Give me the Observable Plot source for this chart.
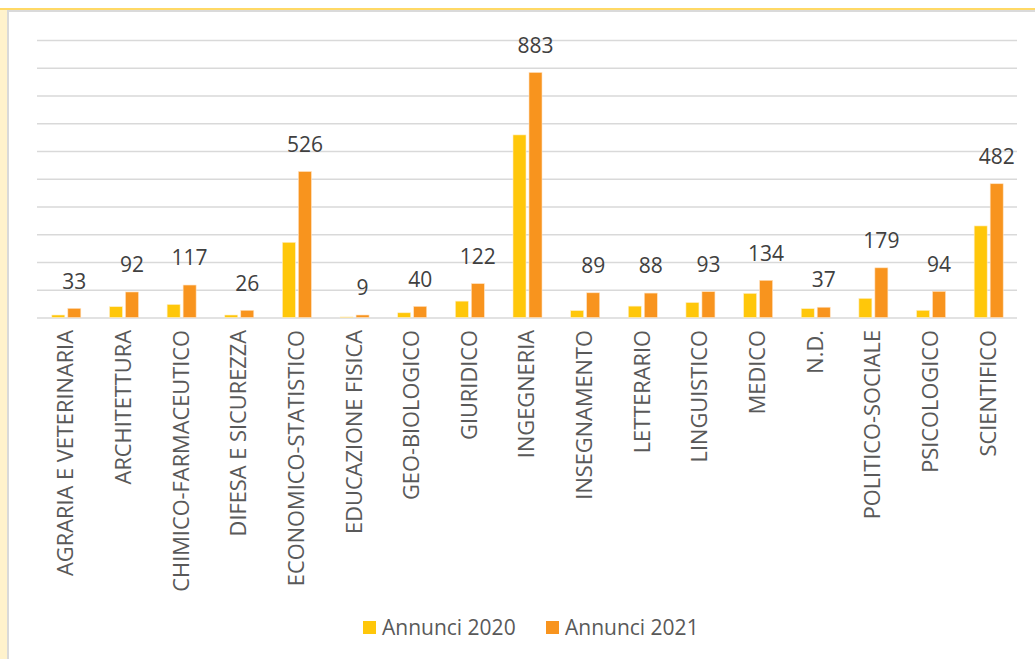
<!DOCTYPE html>
<html>
<head>
<meta charset="utf-8">
<script src="https://cdn.jsdelivr.net/npm/d3@7"></script>
<script src="https://cdn.jsdelivr.net/npm/@observablehq/plot@0.6"></script>
<style>
  html, body { margin: 0; padding: 0; background: #fff; }
  body { width: 1035px; height: 659px; position: relative; overflow: hidden; font-family: "Open Sans", sans-serif; }
  #strip { position: absolute; left: 0; top: 8px; width: 7px; bottom: 0; background: #FFF2CC; }
  #vline { position: absolute; left: 7px; top: 10px; width: 2px; bottom: 0; background: #D9D9D9; }
  #topY { position: absolute; left: 0; right: 0; top: 8px; height: 2px; background: #FFD966; }
  #topG { position: absolute; left: 7px; right: 0; top: 10px; height: 1.5px; background: #DADADA; }
  #chart { position: absolute; left: 0; top: 0; }
  #legend { position: absolute; top: 0; left: 0; width: 1035px; height: 659px; font-size: 21px; color: #595959; }
  .sw { position: absolute; width: 13px; height: 13px; top: 621px; }
  .lt { position: absolute; top: 613px; line-height: 28px; white-space: nowrap; }
</style>
</head>
<body>
<div id="strip"></div>
<div id="topY"></div>
<div id="topG"></div>
<div id="vline"></div>
<div id="chart"></div>
<div id="legend"></div>
<script>
const categories = ["AGRARIA E VETERINARIA","ARCHITETTURA","CHIMICO-FARMACEUTICO","DIFESA E SICUREZZA","ECONOMICO-STATISTICO","EDUCAZIONE FISICA","GEO-BIOLOGICO","GIURIDICO","INGEGNERIA","INSEGNAMENTO","LETTERARIO","LINGUISTICO","MEDICO","N.D.","POLITICO-SOCIALE","PSICOLOGICO","SCIENTIFICO"];
const series = ["Annunci 2020", "Annunci 2021"];
const values2020 = [9, 39, 47, 9, 271, 2, 17, 59, 658, 25, 41, 54, 87, 32, 69, 26, 330];
const values2021 = [33, 92, 117, 26, 526, 9, 40, 122, 883, 89, 88, 93, 134, 37, 179, 94, 482];
const colors = ["#FFC70A", "#F8941E"];
const gridTicks = [0,100,200,300,400,500,600,700,800,900,1000];

const d2020 = categories.map((c, i) => ({cat: c, value: values2020[i]}));
const d2021 = categories.map((c, i) => ({cat: c, value: values2021[i]}));

const W = 1035, H = 600, mL = 37, mR = 18;
const band = (W - mL - mR) / categories.length;
const barW = 13, gap = 3;
const inset = (band - barW) / 2;
const off = (barW + gap) / 2;

const chart = Plot.plot({
  width: W,
  height: H,
  marginLeft: mL,
  marginRight: mR,
  marginTop: 40,
  marginBottom: 282.5,
  style: {fontFamily: "Open Sans, sans-serif", background: "transparent", overflow: "visible"},
  x: {domain: categories, padding: 0, round: false, label: null},
  y: {domain: [0, 1000], axis: null},
  marks: [
    Plot.ruleY(gridTicks, {y: d => d, stroke: "#D9D9D9", strokeWidth: 1.5}),
    Plot.barY(d2020, {x: "cat", y: "value", fill: colors[0], insetLeft: inset, insetRight: inset, dx: -off + 0.5, stroke: "#FFEFC8", strokeWidth: 0.6}),
    Plot.barY(d2021, {x: "cat", y: "value", fill: colors[1], insetLeft: inset, insetRight: inset, dx: off + 0.5, stroke: "#FFE2C0", strokeWidth: 0.6}),
    Plot.text(d2021, {x: "cat", y: "value", text: d => String(d.value), dx: off, dy: -27, fontSize: 21, fill: "#404040"}),
    Plot.axisX({anchor: "bottom", tickRotate: -90, tickSize: 0, tickPadding: 12, fontSize: 21.8, fill: "#595959", label: null, textOverflow: null})
  ]
});
document.getElementById("chart").appendChild(chart);

const legend = document.getElementById("legend");
const legendX = [363, 546];
series.forEach((s, i) => {
  const sw = document.createElement("div");
  sw.className = "sw";
  sw.style.left = legendX[i] + "px";
  sw.style.background = colors[i];
  const tx = document.createElement("div");
  tx.className = "lt";
  tx.style.left = (legendX[i] + 19) + "px";
  tx.textContent = s;
  legend.appendChild(sw); legend.appendChild(tx);
});
</script>
</body>
</html>
